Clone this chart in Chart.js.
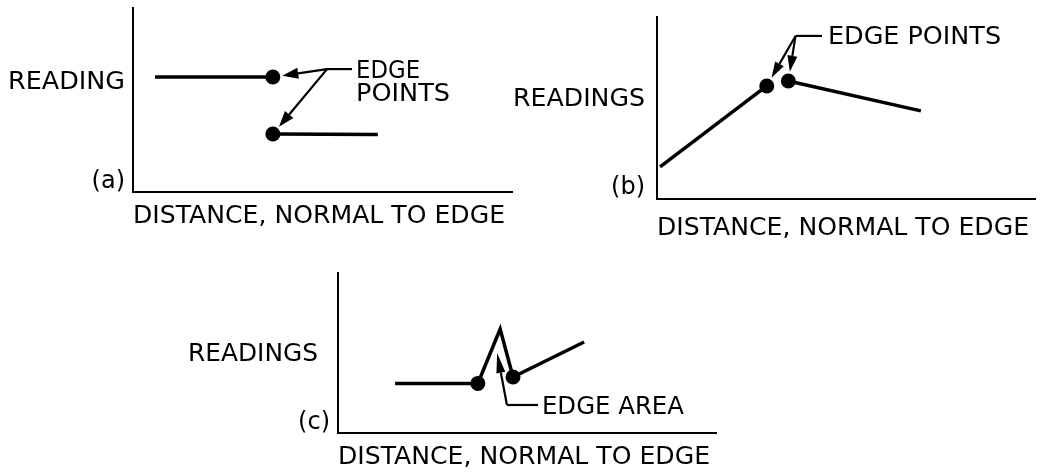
<!DOCTYPE html>
<html>
<head>
<meta charset="utf-8">
<script src="https://cdn.jsdelivr.net/npm/chart.js@4"></script>
<style>
  html, body { margin: 0; padding: 0; background: #fff; }
  #wrap { position: relative; width: 1043px; height: 476px; }
  #wrap canvas { position: absolute; left: 0; top: 0; }
</style>
</head>
<body>
<div id="wrap">
  <canvas id="chartA" width="1043" height="476"></canvas>
  <canvas id="chartB" width="1043" height="476"></canvas>
  <canvas id="chartC" width="1043" height="476"></canvas>
</div>
<script>
// panel (a): reading steps down at the edge
const aUpperX = [5.8, 36.9];
const aUpperY = [62.5, 62.5];
const aLowerX = [36.9, 64.6];
const aLowerY = [31.5, 31.2];
// panel (b): rising slope, then falling after the edge
const bRiseX = [0.8, 29.0];
const bRiseY = [17.6, 62.1];
const bFallX = [34.7, 69.7];
const bFallY = [64.8, 48.4];
// panel (c): flat, spike at the edge, then rising
const cX = [15.1, 37.0, 42.9, 46.3, 65.1];
const cY = [31.0, 31.0, 65.0, 35.0, 56.9];
const cEdgePoints = [1, 3];

const xTitle = 'DISTANCE, NORMAL TO EDGE';
const yTitles = ['READING', 'READINGS', 'READINGS'];
const panelTags = ['(a)', '(b)', '(c)'];
const edgeNotes = ['EDGE', 'POINTS', 'EDGE POINTS', 'EDGE AREA'];

const FONT = "'DejaVu Sans', sans-serif";
const DOT = 7.5;

const pts = (xs, ys) => xs.map((x, i) => ({ x: x, y: ys[i] }));

// draw text in caps, squeezed/stretched to a given width
function fitText(ctx, str, x, base, width, align) {
  ctx.save();
  ctx.font = '24px ' + FONT;
  const w = ctx.measureText(str).width;
  const s = width ? width / w : 1;
  const left = align === 'right' ? x - w * s : x;
  ctx.translate(left, base);
  ctx.scale(s, 1);
  ctx.fillStyle = '#000';
  ctx.textAlign = 'left';
  ctx.textBaseline = 'alphabetic';
  ctx.fillText(str, 0, 0);
  ctx.restore();
}

function arrow(ctx, x0, y0, x1, y1, len, half) {
  const a = Math.atan2(y1 - y0, x1 - x0);
  const bx = x1 - Math.cos(a) * len, by = y1 - Math.sin(a) * len;
  ctx.beginPath(); ctx.moveTo(x0, y0); ctx.lineTo(bx, by); ctx.stroke();
  ctx.beginPath();
  ctx.moveTo(x1, y1);
  ctx.lineTo(bx + Math.sin(a) * half, by - Math.cos(a) * half);
  ctx.lineTo(bx - Math.sin(a) * half, by + Math.cos(a) * half);
  ctx.closePath(); ctx.fill();
}

// stop an arrow a little short of the dot centre
function shortOf(tx, ty, px, py, gap) {
  const d = Math.hypot(px - tx, py - ty);
  return [px - (px - tx) / d * gap, py - (py - ty) / d * gap];
}

function axes() {
  const one = () => ({
    type: 'linear', min: 0, max: 100,
    grid: { display: false, drawTicks: false },
    ticks: { display: false },
    border: { display: true, color: '#000', width: 2 }
  });
  return { x: one(), y: one() };
}

function lineSet(data, radius) {
  return {
    data: data,
    borderColor: '#000',
    borderWidth: 3.5,
    pointRadius: radius,
    pointBackgroundColor: '#000',
    pointBorderWidth: 0,
    tension: 0
  };
}

// axis words: y title left of the axis, panel tag, x title underneath
const titles = {
  id: 'titles',
  afterDraw(chart, args, o) {
    const { ctx, chartArea: ca } = chart;
    fitText(ctx, o.y, ca.left - o.yGap, o.yBase, o.yWidth, 'right');
    fitText(ctx, o.tag, ca.left - o.tagGap, ca.bottom - o.tagLift, 0, 'right');
    fitText(ctx, xTitle, ca.left, ca.bottom + o.xDrop, 372);
  }
};

function makeChart(id, datasets, pad, titleOpts, notes) {
  return new Chart(document.getElementById(id), {
    type: 'line',
    data: { datasets: datasets },
    options: {
      responsive: false,
      animation: false,
      layout: { padding: pad },
      scales: axes(),
      plugins: { legend: { display: false }, tooltip: { enabled: false }, titles: titleOpts }
    },
    plugins: [titles, notes]
  });
}

// (a)
makeChart('chartA', [
  lineSet(pts(aUpperX, aUpperY), c => c.dataIndex === aUpperX.length - 1 ? DOT : 0),
  lineSet(pts(aLowerX, aLowerY), c => c.dataIndex === 0 ? DOT : 0)
], { left: 133, top: 8, right: 1043 - 512, bottom: 476 - 192 },
{ y: yTitles[0], yGap: 8, yBase: 89, yWidth: 117, tag: panelTags[0], tagGap: 8, tagLift: 4, xDrop: 31 },
{
  id: 'notesA',
  afterDraw(chart) {
    const { ctx, scales: { x, y } } = chart;
    const tx = x.getPixelForValue(51.2), ty = y.getPixelForValue(66.8);
    const lx = x.getPixelForValue(57.8);
    ctx.save();
    ctx.strokeStyle = '#000'; ctx.fillStyle = '#000'; ctx.lineWidth = 2.2;
    ctx.beginPath(); ctx.moveTo(tx, ty); ctx.lineTo(lx, ty); ctx.stroke();
    const dots = [
      [x.getPixelForValue(aUpperX[aUpperX.length - 1]), y.getPixelForValue(aUpperY[aUpperY.length - 1])],
      [x.getPixelForValue(aLowerX[0]), y.getPixelForValue(aLowerY[0])]
    ];
    dots.forEach(d => {
      const h = shortOf(tx, ty, d[0], d[1], DOT + 2);
      arrow(ctx, tx, ty, h[0], h[1], 16, 5.5);
    });
    ctx.restore();
    fitText(ctx, edgeNotes[0], lx + 4, ty + 9, 64);
    fitText(ctx, edgeNotes[1], lx + 4, ty + 32, 94);
  }
});

// (b)
makeChart('chartB', [
  lineSet(pts(bRiseX, bRiseY), c => c.dataIndex === bRiseX.length - 1 ? DOT : 0),
  lineSet(pts(bFallX, bFallY), c => c.dataIndex === 0 ? DOT : 0)
], { left: 657, top: 17, right: 1043 - 1040, bottom: 476 - 199 },
{ y: yTitles[1], yGap: 12, yBase: 106, yWidth: 132, tag: panelTags[1], tagGap: 12, tagLift: 5, xDrop: 36 },
{
  id: 'notesB',
  afterDraw(chart) {
    const { ctx, scales: { x, y } } = chart;
    const tx = x.getPixelForValue(36.6), ty = y.getPixelForValue(89.6);
    const lx = x.getPixelForValue(43.6);
    ctx.save();
    ctx.strokeStyle = '#000'; ctx.fillStyle = '#000'; ctx.lineWidth = 2.2;
    ctx.beginPath(); ctx.moveTo(tx, ty); ctx.lineTo(lx, ty); ctx.stroke();
    const dots = [
      [x.getPixelForValue(bRiseX[bRiseX.length - 1]), y.getPixelForValue(bRiseY[bRiseY.length - 1])],
      [x.getPixelForValue(bFallX[0]), y.getPixelForValue(bFallY[0])]
    ];
    dots.forEach(d => {
      const h = shortOf(tx, ty, d[0], d[1], DOT + 2);
      arrow(ctx, tx, ty, h[0], h[1], 16, 5);
    });
    ctx.restore();
    fitText(ctx, edgeNotes[2], lx + 6, ty + 8, 173);
  }
});

// (c)
makeChart('chartC', [
  lineSet(pts(cX, cY), c => cEdgePoints.includes(c.dataIndex) ? DOT : 0)
], { left: 338, top: 273, right: 1043 - 716, bottom: 476 - 433 },
{ y: yTitles[2], yGap: 20, yBase: 361, yWidth: 130, tag: panelTags[2], tagGap: 8, tagLift: 4, xDrop: 31 },
{
  id: 'notesC',
  afterDraw(chart) {
    const { ctx, scales: { x, y } } = chart;
    const hx = x.getPixelForValue(42.1), hy = y.getPixelForValue(50.0);
    const tx = x.getPixelForValue(44.7), ty = y.getPixelForValue(17.5);
    const lx = x.getPixelForValue(52.9);
    ctx.save();
    ctx.strokeStyle = '#000'; ctx.fillStyle = '#000'; ctx.lineWidth = 2.2;
    ctx.beginPath(); ctx.moveTo(tx, ty); ctx.lineTo(lx, ty); ctx.stroke();
    arrow(ctx, tx, ty, hx, hy, 20, 4.5);
    ctx.restore();
    fitText(ctx, edgeNotes[3], lx + 4, ty + 9, 142);
  }
});
</script>
</body>
</html>
